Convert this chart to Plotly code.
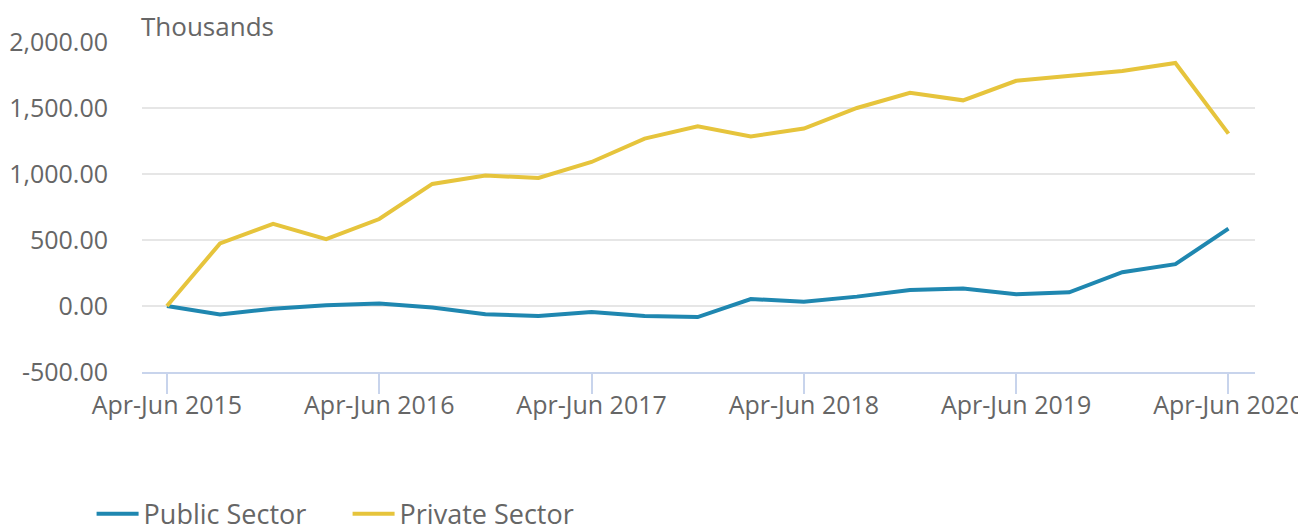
import plotly.graph_objects as go

quarters = []
for yr in range(2015, 2021):
    for q in ["Jan-Mar", "Apr-Jun", "Jul-Sep", "Oct-Dec"]:
        quarters.append(f"{q} {yr}")
quarters = quarters[1:22]  # Apr-Jun 2015 .. Apr-Jun 2020

public_sector = [0, -65, -20, 5, 18, -12, -63, -76, -46, -76, -84, 53,
                 33, 71, 122, 132, 89, 104, 256, 317, 586]
private_sector = [0, 474, 622, 507, 659, 925, 988, 970, 1091, 1268, 1362, 1284,
                  1344, 1500, 1615, 1558, 1706, 1743, 1781, 1841, 1306]

tick_labels = quarters[::4]
y_ticks = [-500, 0, 500, 1000, 1500, 2000]
y_labels = [f"{v:,.2f}" for v in y_ticks]

fig = go.Figure()
fig.add_trace(go.Scatter(x=quarters, y=public_sector, name="Public Sector", mode="lines",
                         line=dict(color="#1F87B0", width=4)))
fig.add_trace(go.Scatter(x=quarters, y=private_sector, name="Private Sector", mode="lines",
                         line=dict(color="#E6C43C", width=4)))

# page body adds an 8px offset, so margins are shifted accordingly
fig.update_layout(
    width=1306, height=524,
    margin=dict(l=134, r=59, t=34, b=160, autoexpand=False),
    paper_bgcolor="white", plot_bgcolor="white",
    font=dict(family="Open Sans", size=25, color="#666666"),
    showlegend=True,
    legend=dict(orientation="h", x=0.064, xref="container", xanchor="left",
                yref="container", y=0.034, yanchor="middle",
                font=dict(size=27, color="#666666"), itemwidth=42, entrywidth=199),
    annotations=[dict(text="Thousands", xref="paper", yref="paper", x=0, y=1,
                      xanchor="left", yanchor="bottom", showarrow=False, xshift=-3,
                      font=dict(size=26, color="#666666"), yshift=-4)],
)
fig.update_xaxes(
    type="category", range=[-0.47, 20.5],
    tickvals=tick_labels, ticktext=tick_labels,
    showgrid=False, showline=True, linecolor="#C8D4EC", linewidth=2,
    ticks="outside", ticklen=20, tickwidth=2, tickcolor="#C8D4EC",
    ticklabelstandoff=-10,
    tickfont=dict(size=25, color="#666666"),
)
fig.update_yaxes(
    range=[-500, 2000], tickvals=y_ticks, ticktext=y_labels,
    showgrid=True, gridcolor="#E6E6E6", gridwidth=2,
    zeroline=False, ticks="", ticklabelstandoff=33,
    tickfont=dict(size=25, color="#666666"),
)

fig.write_html("out.html")
